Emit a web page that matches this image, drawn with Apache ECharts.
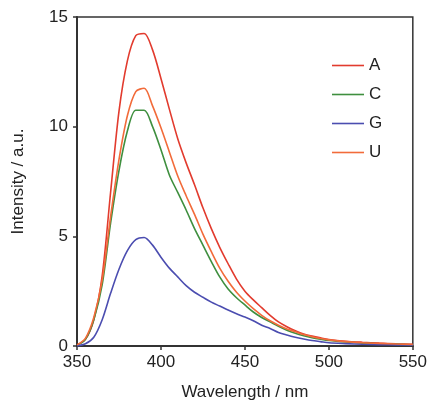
<!DOCTYPE html>
<html>
<head>
<meta charset="utf-8">
<script src="https://cdn.jsdelivr.net/npm/echarts@6/dist/echarts.min.js"></script>
<style>
html,body{margin:0;padding:0;background:#fff;}
#chart{width:430px;height:406px;}
</style>
</head>
<body>
<div id="chart"></div>
<script>
var wavelengths = [350,355,360,365,370,375,380,385,390,395,400,405,410,415,420,425,430,435,440,445,450,455,460,465,470,475,480,485,490,495,500,510,520,530,540,550];
var seriesNames = ['A','C','G','U'];
var valuesA = [0.05,0.3,1.2,3.2,7.0,10.7,13.0,14.15,14.25,13.5,12.2,10.8,9.45,8.35,7.35,6.3,5.35,4.5,3.75,3.05,2.5,2.1,1.75,1.4,1.1,0.88,0.7,0.55,0.45,0.37,0.3,0.22,0.17,0.13,0.1,0.08];
var valuesC = [0.03,0.3,1.2,2.8,5.6,8.0,9.8,10.75,10.75,10.0,8.95,7.8,7.0,6.2,5.35,4.6,3.85,3.15,2.6,2.2,1.87,1.55,1.3,1.1,0.9,0.72,0.58,0.47,0.38,0.31,0.25,0.18,0.13,0.1,0.08,0.06];
var valuesG = [0.0,0.1,0.4,1.2,2.4,3.5,4.35,4.85,4.95,4.6,4.05,3.55,3.15,2.75,2.45,2.22,2.0,1.82,1.64,1.47,1.32,1.15,0.95,0.8,0.62,0.5,0.4,0.32,0.25,0.2,0.15,0.11,0.08,0.06,0.05,0.04];
var valuesU = [0.05,0.35,1.3,3.0,5.9,8.5,10.5,11.6,11.75,10.95,9.95,8.85,7.75,6.85,6.0,5.1,4.3,3.55,2.95,2.45,2.05,1.7,1.4,1.15,0.95,0.78,0.65,0.52,0.42,0.34,0.28,0.2,0.15,0.12,0.09,0.07];
var xTicks = {min:350, max:550, interval:50};
var yTicks = {min:0, max:15, interval:5};

var colors = {A:'#e23b2e', C:'#3f8f3f', G:'#4b4db0', U:'#f26b3a'};
var valueMap = {A:valuesA, C:valuesC, G:valuesG, U:valuesU};

function pairs(vals){ return wavelengths.map(function(w,i){ return [w, vals[i]]; }); }

var chart = echarts.init(document.getElementById('chart'));
var font = 'Liberation Sans, Arial, Helvetica, sans-serif';
chart.setOption({
  animation:false,
  backgroundColor:'#fff',
  grid:{left:77, right:16, top:17, bottom:59, show:true, borderColor:'#333', borderWidth:1.5},
  legend:{
    orient:'vertical', left:327, top:52,
    icon:'rect', itemWidth:32, itemHeight:1.6, itemGap:12,
    textStyle:{fontFamily:font, fontSize:17, lineHeight:14, color:'#222'},
    data:seriesNames
  },
  xAxis:{
    type:'value', min:xTicks.min, max:xTicks.max, interval:xTicks.interval,
    name:'Wavelength / nm', nameLocation:'middle', nameGap:38,
    nameTextStyle:{fontFamily:font, fontSize:17, color:'#222'},
    axisLine:{show:true, onZero:false, lineStyle:{color:'#333', width:2}},
    axisTick:{show:true, inside:false, length:4, lineStyle:{color:'#333', width:1.5}},
    axisLabel:{fontFamily:font, fontSize:17, color:'#222', margin:8},
    splitLine:{show:false}
  },
  yAxis:{
    type:'value', min:yTicks.min, max:yTicks.max, interval:yTicks.interval,
    name:'Intensity / a.u.', nameLocation:'middle', nameGap:50, nameRotate:90,
    nameTextStyle:{fontFamily:font, fontSize:17, color:'#222'},
    axisLine:{show:true, lineStyle:{color:'#333', width:2}},
    axisTick:{show:true, inside:false, length:4, lineStyle:{color:'#333', width:1.5}},
    axisLabel:{fontFamily:font, fontSize:17, color:'#222', margin:9},
    splitLine:{show:false}
  },
  series: seriesNames.map(function(n){
    return {
      name:n, type:'line', data:pairs(valueMap[n]), showSymbol:false, symbol:'none',
      smooth:0.3, color:colors[n],
      lineStyle:{color:colors[n], width:1.6}
    };
  })
});
</script>
</body>
</html>
